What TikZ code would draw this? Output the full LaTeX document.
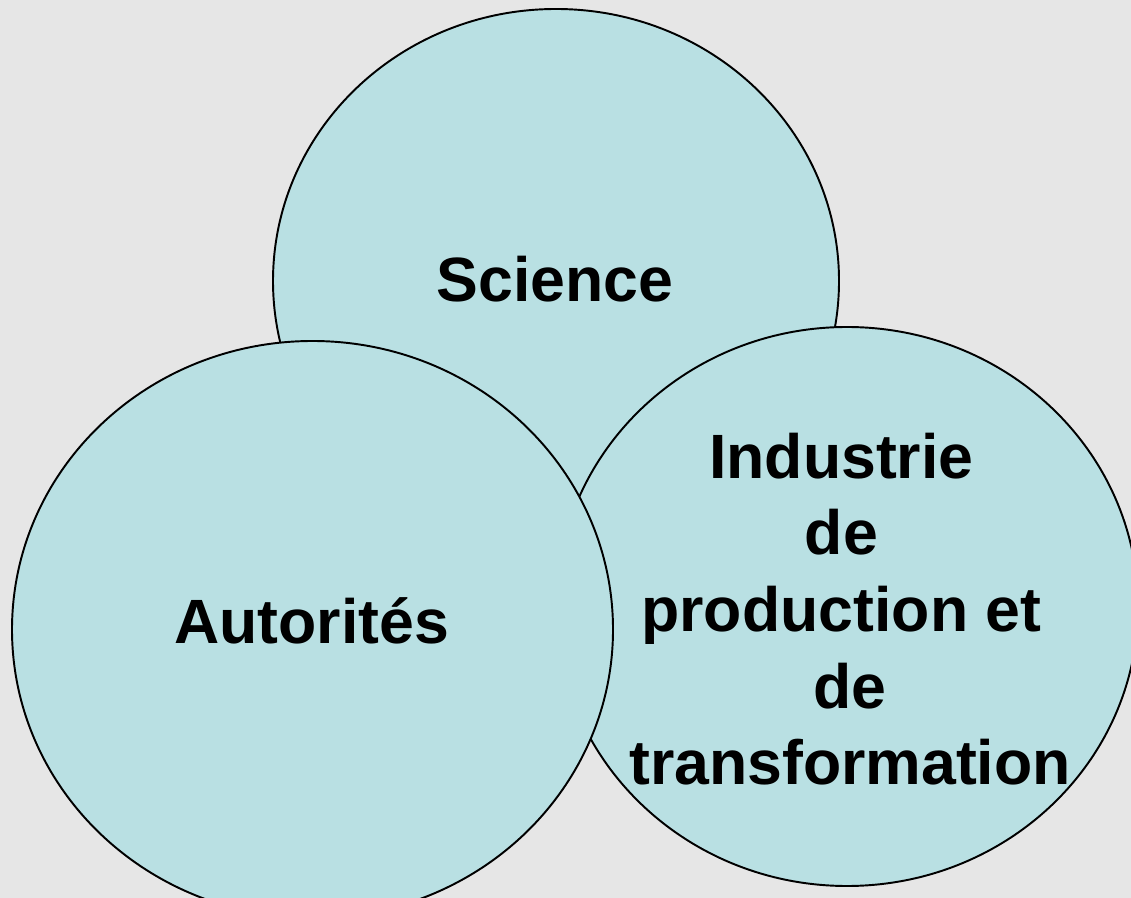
\documentclass[tikz,border=0pt]{standalone}
\usepackage{fontspec}
\setmainfont{Liberation Sans}
\definecolor{fond}{HTML}{E6E6E6}
\definecolor{bulle}{HTML}{B9E0E3}
\tikzset{
  cercle/.style={fill=bulle, draw=black, line width=0.55pt},
  etiq/.style={font=\fontsize{17.8}{21.8}\selectfont\bfseries, align=center, inner sep=0pt}
}
\begin{document}
\begin{tikzpicture}[x=0.01cm,y=-0.01cm]
			\useasboundingbox (0,0) rectangle (1131,898);
			\fill[fond] (0,0) rectangle (1131,898);
			\clip (0,0) rectangle (1131,898);
			\draw[cercle] (556,281) ellipse (283 and 272);
			\draw[cercle] (847,606.5) ellipse (291 and 279.5);
			\draw[cercle] (312.5,629.5) ellipse (300.5 and 288.5);
			\node[etiq, anchor=base] (science) at (555,302) {Science};
			\node[etiq, anchor=base] (autorites) at (311.5,643) {Autorités};
			\node[etiq] (industrie) at (850,609) {Industrie\hphantom{\ }\\ de\hphantom{\ }\\ production et\hphantom{\ }\\ de\\ transformation};
		\end{tikzpicture}
\end{document}
